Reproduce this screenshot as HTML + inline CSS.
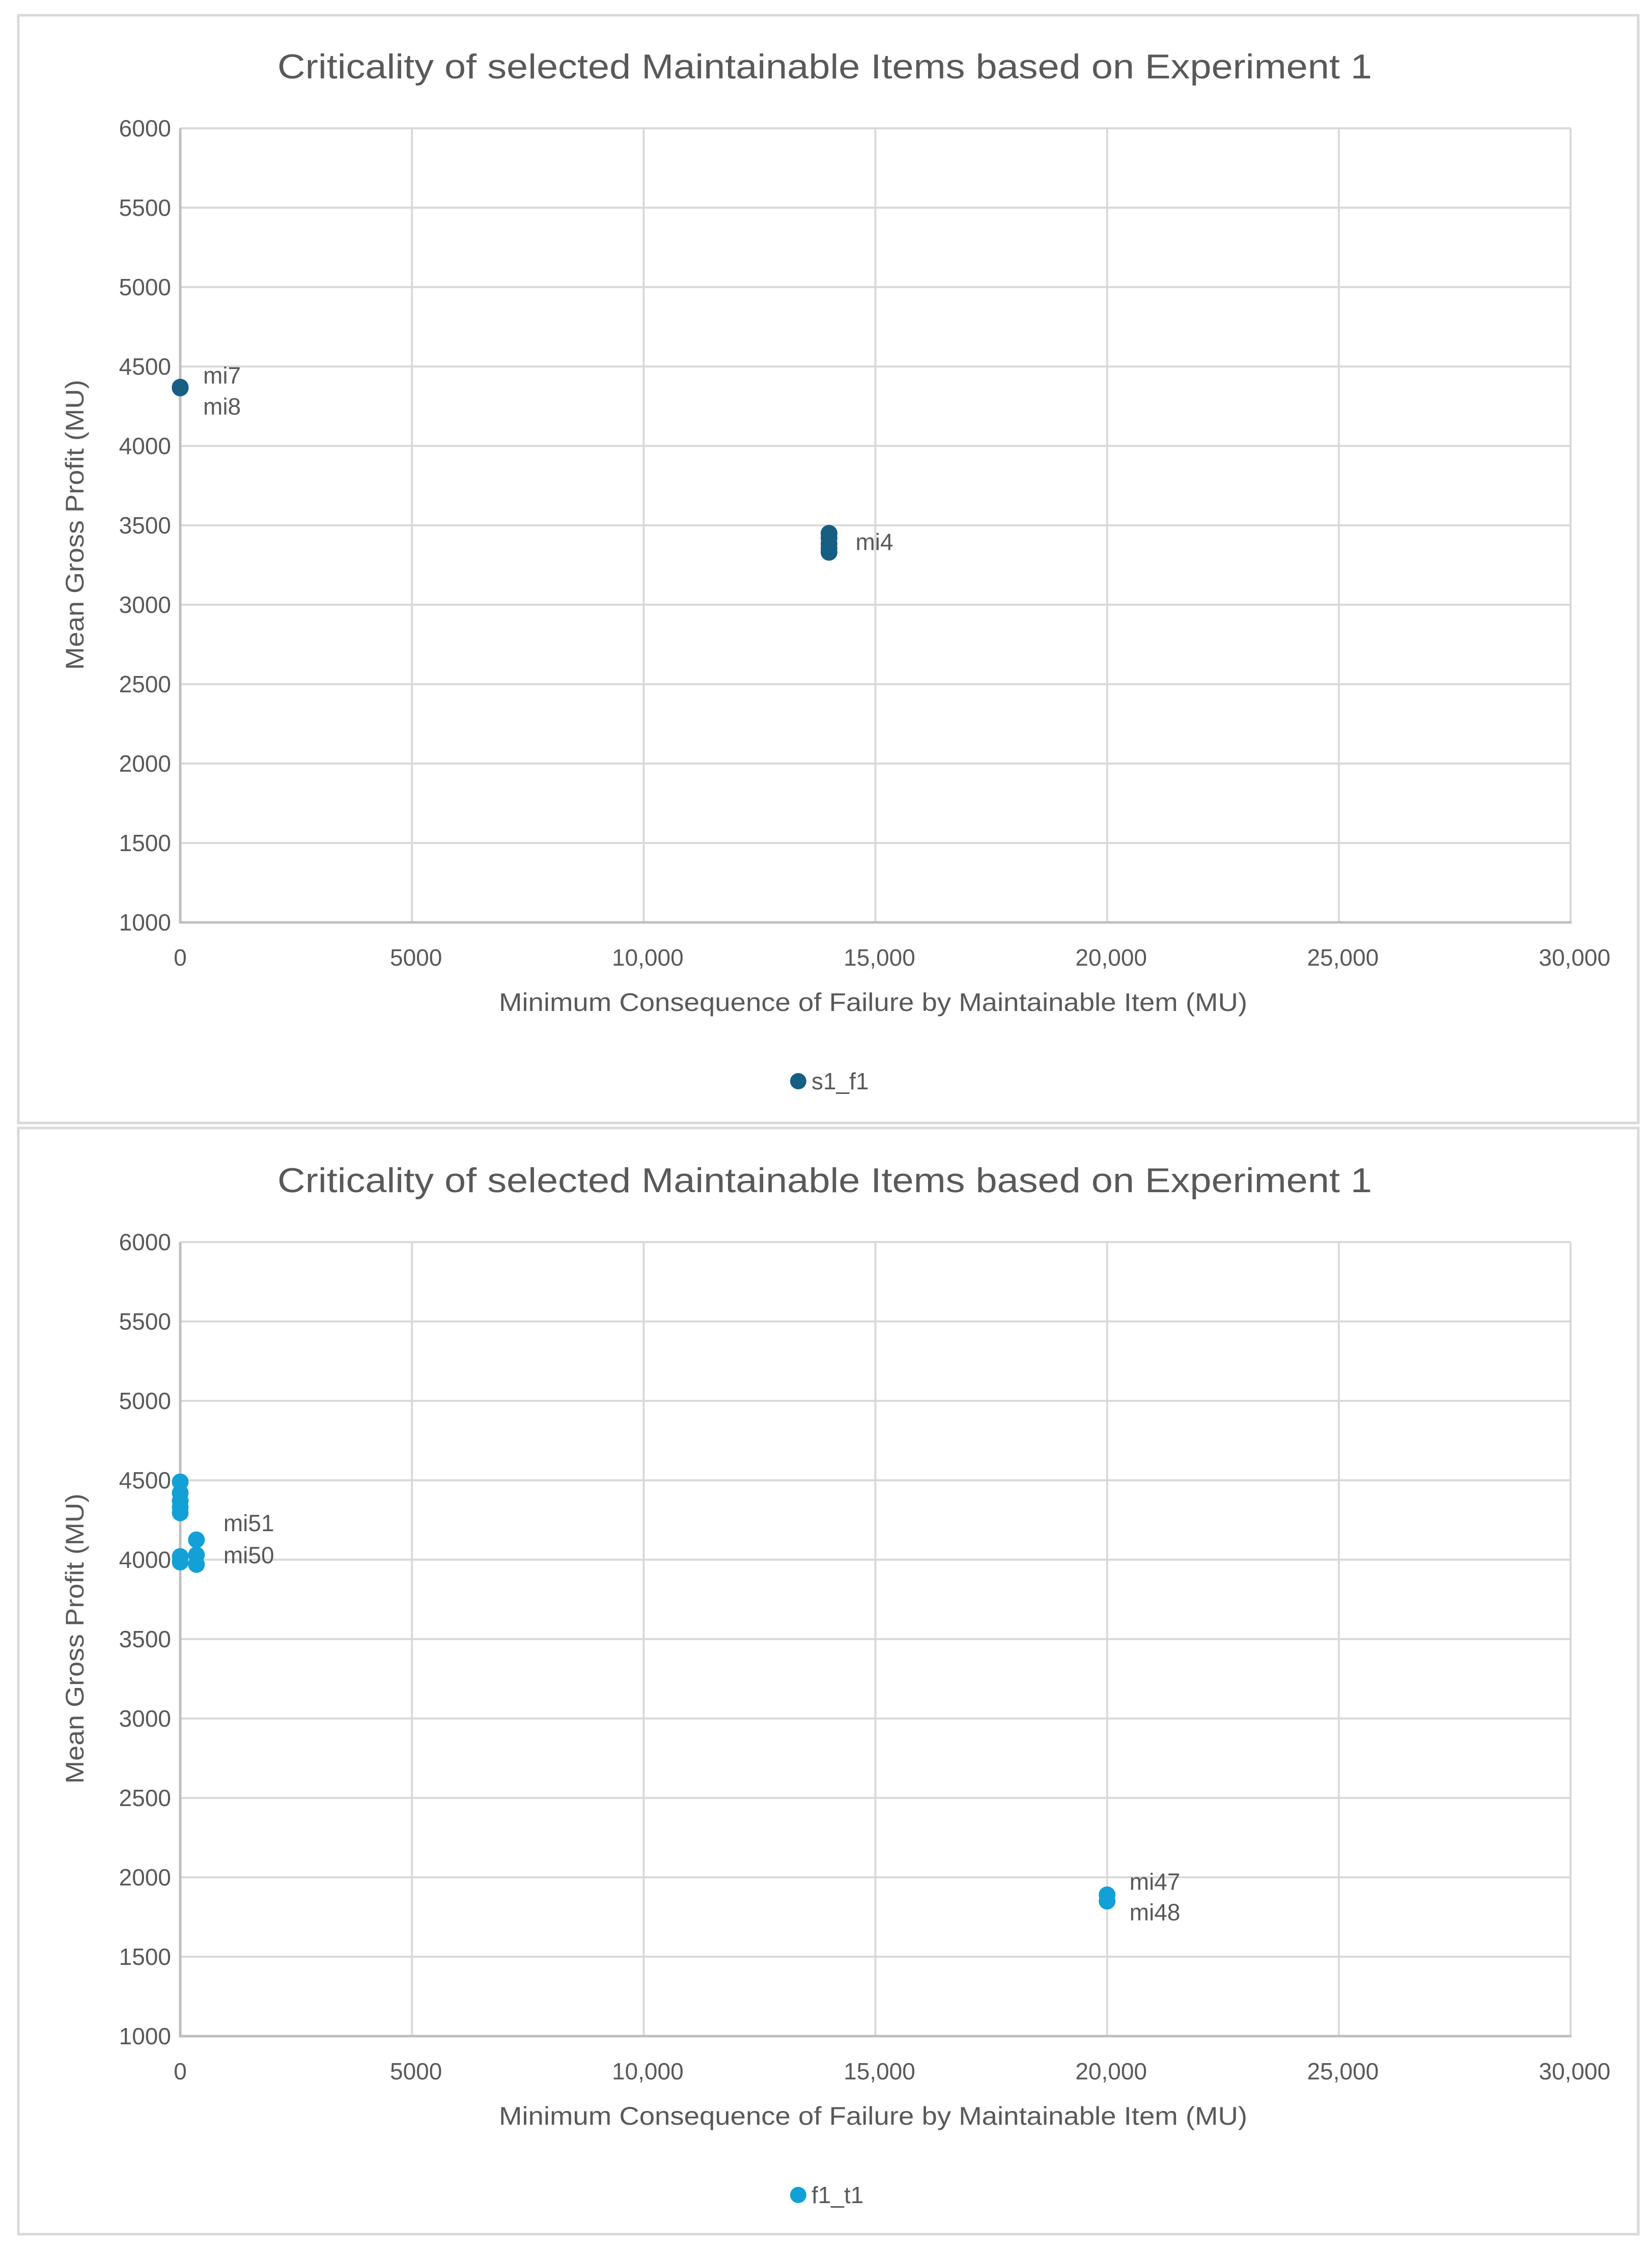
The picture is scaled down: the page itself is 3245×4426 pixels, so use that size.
<!DOCTYPE html>
<html><head><meta charset="utf-8">
<style>
html,body{margin:0;padding:0;background:#fff;}
svg{display:block;}
text{font-family:"Liberation Sans",sans-serif;fill:#595959;}
</style></head>
<body>
<svg id="root" width="3245" height="4426" viewBox="0 0 3245 4426" xmlns="http://www.w3.org/2000/svg">
<rect x="0" y="0" width="3245" height="4426" fill="#fff"/>
</svg>
<script>
// ---- data ----
const xTicks = [0, 5000, 10000, 15000, 20000, 25000, 30000];
const xTickLabels = ["0", "5000", "10,000", "15,000", "20,000", "25,000", "30,000"];
const yTicks = [1000, 1500, 2000, 2500, 3000, 3500, 4000, 4500, 5000, 5500, 6000];
const yTickLabels = ["1000","1500","2000","2500","3000","3500","4000","4500","5000","5500","6000"];

const s1X = [0, 0, 14000, 14000, 14000, 14000, 14000];
const s1Y = [4370, 4365, 3450, 3420, 3385, 3355, 3330];
const s1Labels = [{text:"mi7", x:0, y:4370, dx:45, dy:-7}, {text:"mi8", x:0, y:4370, dx:45, dy:54}, {text:"mi4", x:14000, y:3390, dx:52, dy:14}];

const s2X = [0, 0, 0, 0, 0, 0, 0, 350, 350, 350, 20000, 20000];
const s2Y = [4490, 4420, 4370, 4330, 4295, 4020, 3985, 4125, 4030, 3970, 1890, 1850];
const s2Labels = [{text:"mi51", x:350, y:4125, dx:53, dy:-17}, {text:"mi50", x:350, y:4125, dx:53, dy:46}, {text:"mi47", x:20000, y:1890, dx:44, dy:-10}, {text:"mi48", x:20000, y:1890, dx:44, dy:50}];

const NS = "http://www.w3.org/2000/svg";
const root = document.getElementById("root");
function mk(tag, attrs, parent, txt){
  const e = document.createElementNS(NS, tag);
  for (const k in attrs) e.setAttribute(k, attrs[k]);
  if (txt !== undefined) e.textContent = txt;
  (parent || root).appendChild(e);
  return e;
}

function drawChart(off, frameTop, frameBottom, xs, ys, labels, color, legendText, idx){
  const L = 354, R = 3085, T = 252 + off, B = 1812 + off;
  const xmin = 0, xmax = 30000, ymin = 1000, ymax = 6000;
  const sx = v => L + (v - xmin) / (xmax - xmin) * (R - L);
  const sy = v => B - (v - ymin) / (ymax - ymin) * (B - T);

  const g = mk("g", {});
  
  

  const frame = mk("rect", {x:36, y:frameTop, width:3182, height:frameBottom-frameTop, fill:"#fff", stroke:"#d9d9d9", "stroke-width":5}, g);
  
  

  const title = mk("text", {x:1620, y:154+off, "font-size":68, "text-anchor":"middle", textLength:2150, lengthAdjust:"spacingAndGlyphs"}, g, "Criticality of selected Maintainable Items based on Experiment 1");
  
  

  for (let i = 0; i < yTicks.length; i++){
    const y = sy(yTicks[i]);
    const gl = mk("line", {x1:L, x2:R, y1:y, y2:y, stroke:"#d9d9d9", "stroke-width":4}, g);
    
    
    const tl = mk("text", {x:336, y:y+16, "font-size":46, "text-anchor":"end"}, g, yTickLabels[i]);
    
    
  }
  for (let i = 0; i < xTicks.length; i++){
    const x = sx(xTicks[i]);
    const gl = mk("line", {x1:x, x2:x, y1:T, y2:B, stroke:"#d9d9d9", "stroke-width":4}, g);
    
    
    const tl = mk("text", {x:x + (i===0?0:8), y:1897+off, "font-size":46, "text-anchor":"middle"}, g, xTickLabels[i]);
    
    
  }
  const ax = mk("line", {x1:L, x2:L, y1:T, y2:B+2, stroke:"#bfbfbf", "stroke-width":5}, g);
  
  
  const axx = mk("line", {x1:L-2, x2:R+2, y1:B, y2:B, stroke:"#bfbfbf", "stroke-width":5}, g);
  
  

  const xt = mk("text", {x:1715, y:1986+off, "font-size":50, "text-anchor":"middle", textLength:1470, lengthAdjust:"spacingAndGlyphs"}, g, "Minimum Consequence of Failure by Maintainable Item (MU)");
  
  
  const yt = mk("text", {x:0, y:0, "font-size":50, "text-anchor":"middle", textLength:570, lengthAdjust:"spacingAndGlyphs", transform:"translate(164," + (1031+off) + ") rotate(-90)"}, g, "Mean Gross Profit (MU)");
  
  

  for (let i = 0; i < xs.length; i++){
    const c = mk("circle", {cx:sx(xs[i]), cy:sy(ys[i]), r:16.5, fill:color}, g);
    
    
  }
  for (const lb of labels){
    const t = mk("text", {x:sx(lb.x)+lb.dx, y:sy(lb.y)+lb.dy, "font-size":46, fill:"#404040"}, g, lb.text);
    
    
  }
  const ld = mk("circle", {cx:1568, cy:2124+off, r:16, fill:color}, g);
  
  
  const lt = mk("text", {x:1594, y:2140+off, "font-size":46}, g, legendText);
  
  
}

drawChart(0, 30, 2206, s1X, s1Y, s1Labels, "#175e83", "s1_f1", 1);
drawChart(2188, 2216, 4389, s2X, s2Y, s2Labels, "#12a0d7", "f1_t1", 2);
</script>
</body></html>
